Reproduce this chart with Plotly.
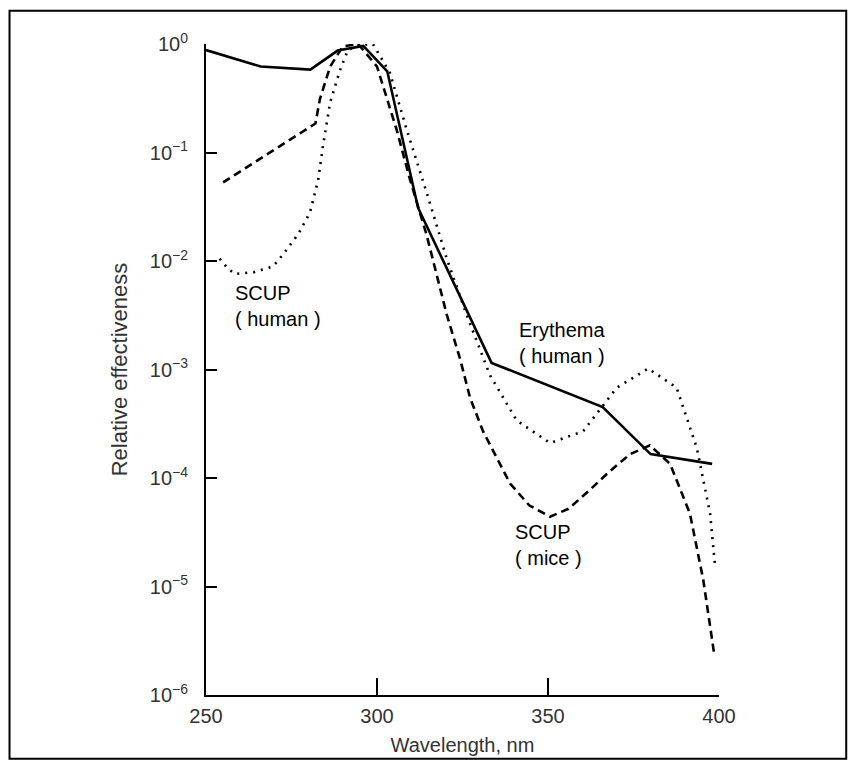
import plotly.graph_objects as go

# Erythema (human) - solid
erythema_wl = [250, 266, 280.5, 288.5, 296, 303, 312, 333.5, 366, 380, 398]
erythema_val = [0.88, 0.62, 0.58, 0.87, 0.96, 0.56, 0.031, 0.00115, 4.5e-4, 1.66e-4, 1.35e-4]

# SCUP (mice) - dashed
mice_wl = [255, 282, 283.3, 286.3, 290, 294.5, 300, 305.8, 309.6, 314.5, 320.4, 324.3,
           327.2, 331, 338.9, 344.5, 350.6, 356, 362.3, 368, 374, 379.8, 385.7, 391.5,
           395.4, 397.9, 398.5]
mice_val = [0.053, 0.185, 0.31, 0.62, 0.95, 1.0, 0.62, 0.16, 0.057, 0.0174, 0.0032, 0.00125,
            5.5e-4, 2.7e-4, 8.9e-5, 5.6e-5, 4.4e-5, 5.2e-5, 7.8e-5, 1.15e-4, 1.66e-4, 2.0e-4,
            1.35e-4, 4.7e-5, 1.15e-5, 3.2e-6, 2.5e-6]

# SCUP (human) - dotted
human_wl = [254, 256.4, 258.5, 264, 269.6, 273, 277, 280.4, 282.8, 284.2, 286.3, 289.2,
            291.5, 295, 298.8, 303.8, 308.7, 314.5, 320.4, 326.2, 333, 340.8, 350.6, 360.3,
            370.1, 379.3, 387.6, 393.5, 397.4, 398.8]
human_val = [0.0105, 0.0085, 0.0076, 0.0079, 0.0089, 0.012, 0.0178, 0.028, 0.056, 0.115,
             0.29, 0.575, 0.88, 0.98, 1.0, 0.54, 0.162, 0.043, 0.0105, 0.0032, 8.9e-4,
             3.4e-4, 2.1e-4, 2.7e-4, 6.8e-4, 1.02e-3, 6.8e-4, 1.9e-4, 4.7e-5, 1.6e-5]

x_ticks = [250, 300, 350, 400]
y_ticks = [1, 1e-1, 1e-2, 1e-3, 1e-4, 1e-5, 1e-6]
y_ticktext = ["10<sup>0</sup>", "10<sup>−1</sup>", "10<sup>−2</sup>", "10<sup>−3</sup>",
              "10<sup>−4</sup>", "10<sup>−5</sup>", "10<sup>−6</sup>"]

labels = [
    (257.9, -2.413, "SCUP<br>( human )"),
    (340.9, -2.756, "Erythema<br>( human )"),
    (339.8, -4.62, "SCUP<br>( mice )"),
]

font = "Liberation Sans, Arial, sans-serif"

fig = go.Figure()
fig.add_trace(go.Scatter(x=erythema_wl, y=erythema_val, mode="lines",
                         line=dict(color="black", width=2.6)))
fig.add_trace(go.Scatter(x=mice_wl, y=mice_val, mode="lines",
                         line=dict(color="black", width=2.6, dash="8px,5px")))
fig.add_trace(go.Scatter(x=human_wl, y=human_val, mode="lines",
                         line=dict(color="black", width=2.6, dash="2px,6px")))

for x, y, t in labels:
    fig.add_annotation(x=x, y=y, text=t, showarrow=False, xanchor="left", yanchor="middle",
                       align="left", font=dict(family=font, size=20, color="black"))

# outer frame (kept just inside the figure so it is not clipped)
fig.add_shape(type="rect", xref="paper", yref="paper", x0=-0.383, x1=1.248, y0=-0.098, y1=1.051,
              line=dict(color="black", width=2))

# the page body adds an 8px margin, so the figure is 16px smaller than the window
fig.update_layout(
    width=840,
    height=757,
    margin=dict(l=198, r=129, t=36, b=66),
    paper_bgcolor="white",
    plot_bgcolor="white",
    showlegend=False,
    font=dict(family=font, color="#333"),
)
fig.update_xaxes(
    range=[250, 400], tickvals=x_ticks, ticks="inside", ticklen=17, tickwidth=2,
    tickcolor="black", showline=True, linewidth=2, linecolor="black", showgrid=False,
    zeroline=False, tickfont=dict(size=20, color="#333"), ticklabelstandoff=2,
    title=dict(text="Wavelength, nm", font=dict(size=20, color="#333"), standoff=12),
)
fig.update_yaxes(
    type="log", range=[-6, 0], tickvals=y_ticks, ticktext=y_ticktext, ticks="inside",
    ticklen=11, tickwidth=2, tickcolor="black", showline=True, linewidth=2, linecolor="black",
    showgrid=False, zeroline=False, tickfont=dict(size=20, color="#333"), ticklabelstandoff=12,
    title=dict(text="Relative effectiveness", font=dict(size=22, color="#333"), standoff=16),
)

fig.write_html("out.html")
